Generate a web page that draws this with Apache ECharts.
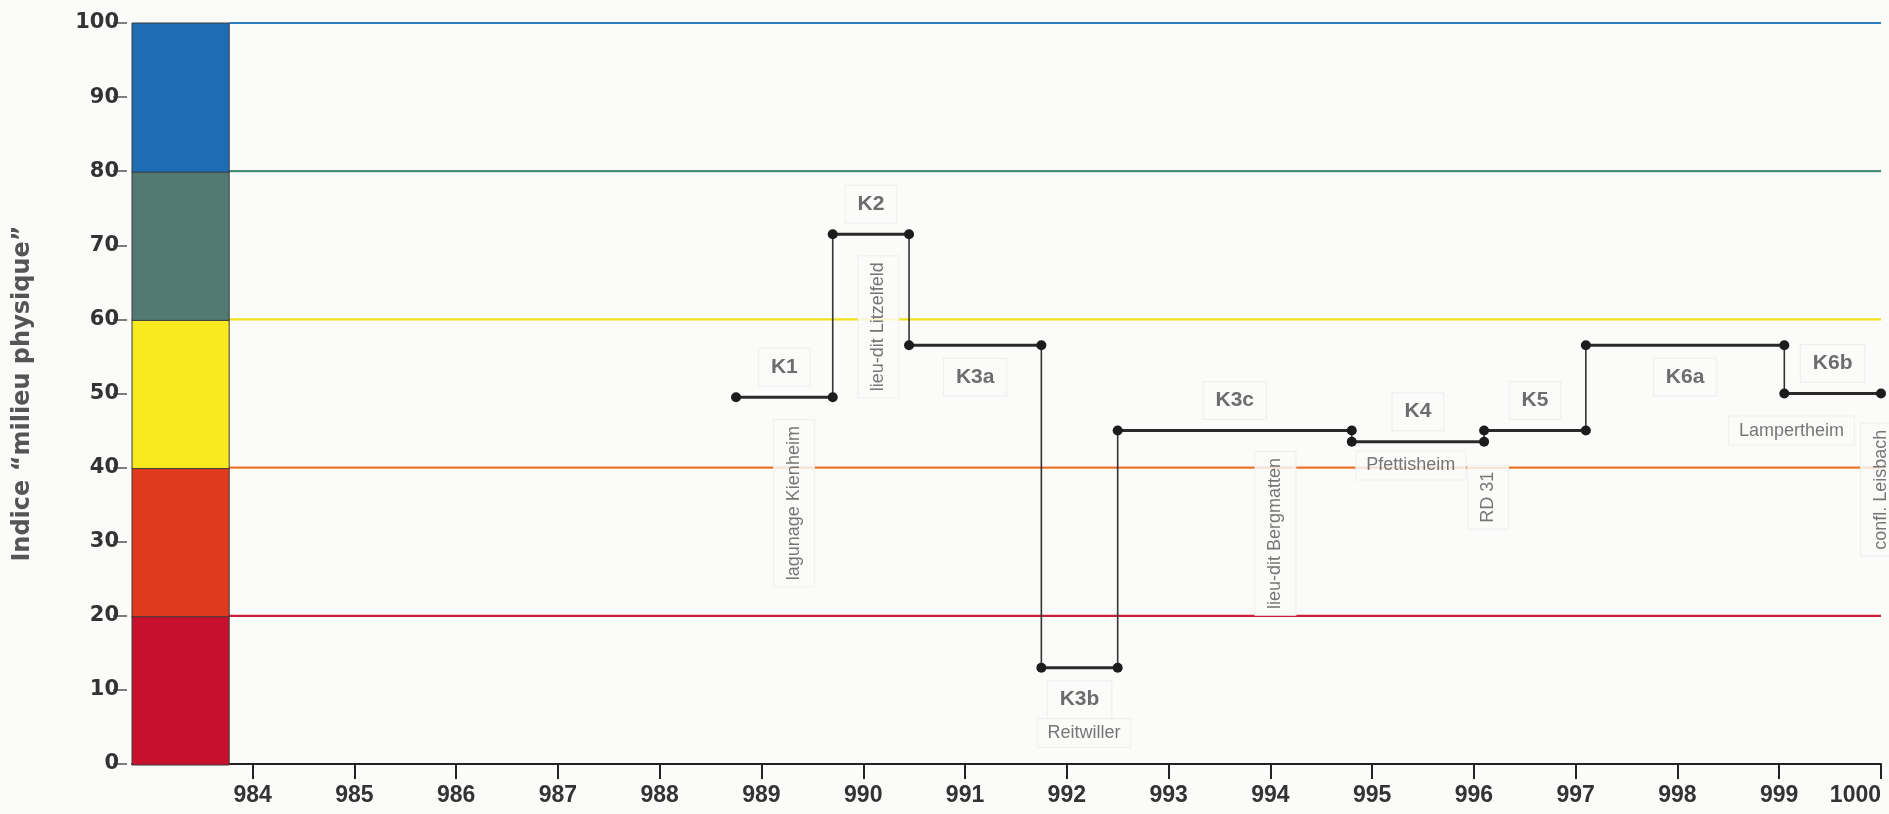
<!DOCTYPE html>
<html>
<head>
<meta charset="utf-8">
<script src="https://cdn.jsdelivr.net/npm/echarts@6/dist/echarts.min.js"></script>
<style>
html,body{margin:0;padding:0;background:#fbfbfa;}
#chart{width:1889px;height:814px;}
</style>
</head>
<body>
<div id="chart"></div>
<script>
// ---- Data ----
const kmTicks = [984, 985, 986, 987, 988, 989, 990, 991, 992, 993, 994, 995, 996, 997, 998, 999, 1000];

const segNames  = ['K1', 'K2', 'K3a', 'K3b', 'K3c', 'K4', 'K5', 'K6a', 'K6b'];
const segStart  = [988.75, 989.7, 990.45, 991.75, 992.5, 994.8, 996.1, 997.1, 999.05];
const segEnd    = [989.7, 990.45, 991.75, 992.5, 994.8, 996.1, 997.1, 999.05, 1000];
const segValue  = [49.5, 71.5, 56.5, 13, 45, 43.5, 45, 56.5, 50];
const segLabelSide = ['top', 'top', 'bottom', 'bottom', 'top', 'top', 'top', 'bottom', 'top'];

const placeNames = ['lagunage Kienheim', 'lieu-dit Litzelfeld', 'Reitwiller', 'lieu-dit Bergmatten',
                    'Pfettisheim', 'RD 31', 'Lampertheim', 'confl. Leisbach'];
const placeKm    = [989.32, 990.15, 992.17, 994.05, 995.38, 996.14, 999.12, 1000.0];
const placeValue = [35.2, 59, 4.2, 31.1, 40.3, 36, 45, 37];
const placeVertical = [true, true, false, true, false, true, false, true];

const classLow    = [0, 20, 40, 60, 80];
const classHigh   = [20, 40, 60, 80, 100];
const classColors = ['#c80f2d', '#e03a1d', '#f8ea1f', '#517a72', '#1c6db4'];

const thresholdValues = [100, 80, 60, 40, 20];
const thresholdColors = ['#2f7cc0', '#4a8c7c', '#efe31d', '#e8772d', '#c8213c'];

// ---- Layout constants ----
const X_MIN = 982.815;
const X_MAX = 1000;
const BAR_X0 = 982.815;
const BAR_X1 = 983.77;
const BG = '#fbfbfa';

const chart = echarts.init(document.getElementById('chart'), null, {renderer: 'canvas'});

const series = [];

// colour class bar
series.push({
  type: 'custom',
  z: 5,
  clip: false,
  encode: {x: 0, y: [1, 2]},
  data: classLow.map((lo, i) => [BAR_X0, lo, classHigh[i]]),
  renderItem: function (params, api) {
    const lo = api.value(1), hi = api.value(2);
    const p1 = api.coord([BAR_X0, hi]);
    const p2 = api.coord([BAR_X1, lo]);
    return {
      type: 'rect',
      shape: {x: p1[0], y: p1[1], width: p2[0] - p1[0], height: p2[1] - p1[1] + 1},
      style: {fill: classColors[params.dataIndex], stroke: '#3a3a3a', lineWidth: 1}
    };
  }
});

// threshold lines
thresholdValues.forEach((v, i) => {
  series.push({
    type: 'line',
    z: 2,
    symbol: 'none',
    silent: true,
    lineStyle: {color: thresholdColors[i], width: 2.2},
    data: [[BAR_X1, v], [X_MAX, v]]
  });
});

// horizontal segments (thick) with end dots
segNames.forEach((n, i) => {
  series.push({
    type: 'line',
    z: 4,
    symbol: 'circle',
    symbolSize: 10,
    showSymbol: true,
    itemStyle: {color: '#1c1c1c'},
    lineStyle: {color: '#2a2a2a', width: 3},
    data: [[segStart[i], segValue[i]], [segEnd[i], segValue[i]]]
  });
});

// vertical connectors (thin)
for (let i = 0; i < segNames.length - 1; i++) {
  series.push({
    type: 'line',
    z: 3,
    symbol: 'none',
    lineStyle: {color: '#333', width: 1.6},
    data: [[segEnd[i], segValue[i]], [segStart[i + 1], segValue[i + 1]]]
  });
}

// segment labels
series.push({
  type: 'scatter',
  z: 6,
  symbolSize: 1,
  itemStyle: {color: 'rgba(0,0,0,0)'},
  data: segNames.map((n, i) => ({
    name: n,
    value: [(segStart[i] + segEnd[i]) / 2, segValue[i]],
    label: {position: segLabelSide[i], distance: segLabelSide[i] === 'top' ? 11 : 13}
  })),
  label: {
    show: true,
    formatter: '{b}',
    fontFamily: "'Liberation Sans', Arial, sans-serif",
    fontWeight: 'bold',
    fontSize: 21,
    color: '#4a4a4a',
    backgroundColor: BG,
    borderColor: '#ececec',
    borderWidth: 1,
    padding: [8, 12]
  }
});

// place-name labels
series.push({
  type: 'scatter',
  z: 6,
  symbolSize: 1,
  itemStyle: {color: 'rgba(0,0,0,0)'},
  data: placeNames.map((n, i) => ({
    name: n,
    value: [placeKm[i], placeValue[i]],
    label: placeVertical[i]
      ? {rotate: 90, padding: [11, 6]}
      : {rotate: 0, padding: [5, 10]}
  })),
  label: {
    show: true,
    position: 'inside',
    formatter: '{b}',
    fontFamily: "'Liberation Sans', Arial, sans-serif",
    fontSize: 18,
    color: '#555',
    backgroundColor: BG,
    borderColor: '#ededed',
    borderWidth: 1
  }
});

const option = {
  animation: false,
  backgroundColor: BG,
  grid: {left: 132, right: 8, top: 23, bottom: 50, containLabel: false},
  xAxis: {
    type: 'value',
    min: X_MIN,
    max: X_MAX,
    splitLine: {show: false},
    axisLine: {show: true, lineStyle: {color: '#222', width: 2}},
    axisTick: {show: true, customValues: kmTicks, length: 15, lineStyle: {color: '#222', width: 2}},
    axisLabel: {
      customValues: kmTicks,
      formatter: function (v) { return String(Math.round(v)); },
      margin: 20,
      alignMaxLabel: 'right',
      fontFamily: "'Liberation Sans Narrow', 'Liberation Sans', Arial, sans-serif",
      fontWeight: 'bold',
      fontSize: 23,
      color: '#333'
    }
  },
  yAxis: {
    type: 'value',
    min: 0,
    max: 100,
    interval: 10,
    offset: 5,
    splitLine: {show: false},
    axisLine: {show: false},
    axisTick: {show: true, length: 14, lineStyle: {color: '#555', width: 1.5}},
    axisLabel: {
      margin: 8,
      fontFamily: "'DejaVu Sans', sans-serif",
      fontWeight: 'bold',
      fontSize: 21,
      color: '#333'
    },
    name: 'Indice \u201cmilieu physique\u201d',
    nameLocation: 'middle',
    nameGap: 92,
    nameTextStyle: {
      fontFamily: "'DejaVu Sans', sans-serif",
      fontWeight: 'bold',
      fontSize: 24,
      color: '#555'
    }
  },
  series: series
};

chart.setOption(option);
</script>
</body>
</html>
